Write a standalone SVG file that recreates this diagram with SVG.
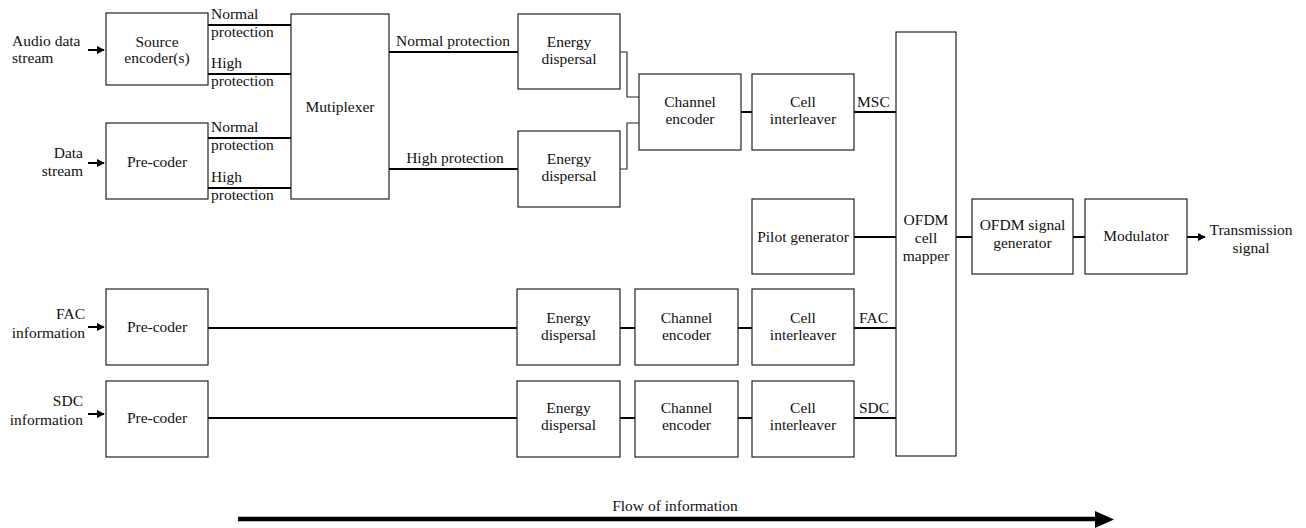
<svg xmlns="http://www.w3.org/2000/svg" width="1306" height="528" viewBox="0 0 1306 528" font-family="'Liberation Serif', 'Times New Roman', 'DejaVu Serif', serif">
<defs>
<style>
text{font-family:'Liberation Serif','Times New Roman','DejaVu Serif',serif;font-size:15.5px;fill:#111}
.c{text-anchor:middle}
.r{text-anchor:end}
.box{fill:#fff;stroke:#222;stroke-width:1.2}
.thick{fill:none;stroke:#000;stroke-width:2}
.thin{fill:none;stroke:#222;stroke-width:1.1}
</style>
<marker id="ah" viewBox="0 0 10 10" refX="9" refY="5" markerWidth="4" markerHeight="4" orient="auto" markerUnits="strokeWidth">
<path d="M0,0 L10,5 L0,10 z" fill="#000"/>
</marker>
</defs>
<rect width="1306" height="528" fill="#fff"/>

<g id="connectors">
<path class="thick" d="M88,50 H104" marker-end="url(#ah)"/>
<path class="thick" d="M88,163 H104" marker-end="url(#ah)"/>
<path class="thick" d="M88,327 H104" marker-end="url(#ah)"/>
<path class="thick" d="M88,414 H104" marker-end="url(#ah)"/>
<path class="thick" d="M208,25 H291 M208,74 H291 M208,138 H291 M208,188 H291"/>
<path class="thick" d="M389,52 H518 M389,169 H518"/>
<path class="thin" d="M620,52 H627 V97 H639 M620,169 H627 V123 H639"/>
<path class="thick" d="M741,112 H752 M854,112 H896"/>
<path class="thick" d="M854,237 H896 M956,237 H972 M1073,237 H1085"/>
<path class="thick" d="M1187,237 H1205" marker-end="url(#ah)"/>
<path class="thick" d="M208,328 H517 M620,328 H635 M738,328 H752 M854,328 H896"/>
<path class="thick" d="M208,418 H517 M620,418 H635 M738,418 H752 M854,418 H896"/>
</g>

<g id="labels">
<text x="12" y="46">Audio data</text>
<text x="12" y="63">stream</text>
<text class="r" x="83" y="158">Data</text>
<text class="r" x="83" y="176">stream</text>
<text class="r" x="85" y="319">FAC</text>
<text class="r" x="85" y="338">information</text>
<text class="r" x="83" y="406">SDC</text>
<text class="r" x="83" y="425">information</text>
<text x="211" y="19">Normal</text>
<text x="211" y="37">protection</text>
<text x="211" y="68">High</text>
<text x="211" y="86">protection</text>
<text x="211" y="132">Normal</text>
<text x="211" y="150">protection</text>
<text x="211" y="182">High</text>
<text x="211" y="200">protection</text>
<text class="c" x="453" y="46">Normal protection</text>
<text class="c" x="455" y="163">High protection</text>
<text x="857" y="107">MSC</text>
<text x="859" y="323">FAC</text>
<text x="859" y="413">SDC</text>
<text class="c" x="1251" y="235">Transmission</text>
<text class="c" x="1251" y="253">signal</text>
</g>

<g id="source-encoder"><rect class="box" x="106" y="13" width="102" height="72"/><text class="c" x="157" y="47">Source</text><text class="c" x="157" y="63">encoder(s)</text></g>
<g id="pre-coder-data"><rect class="box" x="106" y="123" width="102" height="76"/><text class="c" x="157" y="167">Pre-coder</text></g>
<g id="multiplexer"><rect class="box" x="291" y="14" width="98" height="185"/><text class="c" x="340" y="112">Mutiplexer</text></g>
<g id="energy-normal"><rect class="box" x="518" y="14" width="102" height="75"/><text class="c" x="569" y="47">Energy</text><text class="c" x="569" y="64">dispersal</text></g>
<g id="energy-high"><rect class="box" x="518" y="131" width="102" height="76"/><text class="c" x="569" y="164">Energy</text><text class="c" x="569" y="181">dispersal</text></g>
<g id="channel-encoder-msc"><rect class="box" x="639" y="74" width="102" height="76"/><text class="c" x="690" y="107">Channel</text><text class="c" x="690" y="124">encoder</text></g>
<g id="cell-interleaver-msc"><rect class="box" x="752" y="74" width="102" height="76"/><text class="c" x="803" y="107">Cell</text><text class="c" x="803" y="124">interleaver</text></g>
<g id="pilot-generator"><rect class="box" x="752" y="199" width="102" height="75"/><text class="c" x="803" y="242">Pilot generator</text></g>
<g id="ofdm-cell-mapper"><rect class="box" x="896" y="32" width="60" height="424"/><text class="c" x="926" y="225">OFDM</text><text class="c" x="926" y="243">cell</text><text class="c" x="926" y="261">mapper</text></g>
<g id="ofdm-signal-generator"><rect class="box" x="972" y="199" width="101" height="75"/><text class="c" x="1022.5" y="230">OFDM signal</text><text class="c" x="1022.5" y="248">generator</text></g>
<g id="modulator"><rect class="box" x="1085" y="199" width="102" height="75"/><text class="c" x="1136" y="241">Modulator</text></g>

<g id="pre-coder-fac"><rect class="box" x="106" y="289" width="102" height="76"/><text class="c" x="157" y="332">Pre-coder</text></g>
<g id="energy-fac"><rect class="box" x="517" y="289" width="103" height="76"/><text class="c" x="568.5" y="323">Energy</text><text class="c" x="568.5" y="340">dispersal</text></g>
<g id="channel-encoder-fac"><rect class="box" x="635" y="289" width="103" height="76"/><text class="c" x="686.5" y="323">Channel</text><text class="c" x="686.5" y="340">encoder</text></g>
<g id="cell-interleaver-fac"><rect class="box" x="752" y="289" width="102" height="76"/><text class="c" x="803" y="323">Cell</text><text class="c" x="803" y="340">interleaver</text></g>

<g id="pre-coder-sdc"><rect class="box" x="106" y="381" width="102" height="76"/><text class="c" x="157" y="423">Pre-coder</text></g>
<g id="energy-sdc"><rect class="box" x="517" y="381" width="103" height="76"/><text class="c" x="568.5" y="413">Energy</text><text class="c" x="568.5" y="430">dispersal</text></g>
<g id="channel-encoder-sdc"><rect class="box" x="635" y="381" width="103" height="76"/><text class="c" x="686.5" y="413">Channel</text><text class="c" x="686.5" y="430">encoder</text></g>
<g id="cell-interleaver-sdc"><rect class="box" x="752" y="381" width="102" height="76"/><text class="c" x="803" y="413">Cell</text><text class="c" x="803" y="430">interleaver</text></g>

<g id="flow-arrow">
<text class="c" x="675" y="511">Flow of information</text>
<path d="M238,519 H1097" stroke="#000" stroke-width="4.5" fill="none"/>
<path d="M1095,511 L1114,519.5 L1095,528 z" fill="#000"/>
</g>
</svg>
